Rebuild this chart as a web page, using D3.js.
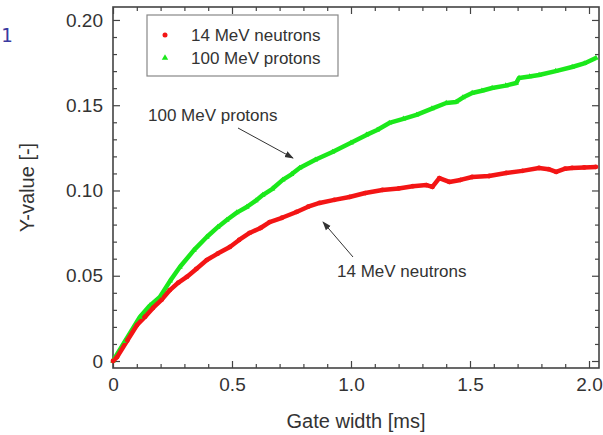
<!DOCTYPE html>
<meta charset="utf-8">
<style>
    body { margin: 0; background: #fff; }
    text { font-family: "Liberation Sans", Arial, sans-serif; fill: #333; }
    .axis path { display: none; }
    .axis line { stroke: #444; stroke-width: 1.2; }
</style>
<body>
<div id="chart"></div>
<script src="https://d3js.org/d3.v7.min.js"></script>
<script type="text/javascript">

    // data (gate width in ms, Y-value)
    var neutronX = [0, 0.017, 0.06, 0.101, 0.135, 0.168, 0.205, 0.239, 0.275, 0.31, 0.35, 0.394, 0.44, 0.491, 0.53, 0.574, 0.62, 0.658, 0.71, 0.771, 0.82, 0.868, 0.93, 0.994, 1.06, 1.132, 1.2, 1.26, 1.317, 1.342, 1.371, 1.413, 1.46, 1.509, 1.58, 1.652, 1.72, 1.79, 1.83, 1.862, 1.9, 1.929, 1.98, 2.029];
    var neutronY = [0, 0.0023, 0.012, 0.0211, 0.026, 0.0311, 0.036, 0.0416, 0.046, 0.0493, 0.054, 0.0592, 0.063, 0.0669, 0.071, 0.0751, 0.078, 0.0815, 0.084, 0.0874, 0.0905, 0.0927, 0.0945, 0.0962, 0.0985, 0.1003, 0.1012, 0.1025, 0.1032, 0.1021, 0.1073, 0.105, 0.1062, 0.1079, 0.1085, 0.1103, 0.1115, 0.1132, 0.1125, 0.1109, 0.1128, 0.1132, 0.1135, 0.1138];

    var protonX = [0, 0.05, 0.113, 0.155, 0.197, 0.24, 0.281, 0.34, 0.394, 0.44, 0.478, 0.52, 0.562, 0.6, 0.629, 0.67, 0.713, 0.75, 0.784, 0.85, 0.922, 1.0, 1.065, 1.11, 1.161, 1.22, 1.275, 1.34, 1.4, 1.442, 1.47, 1.509, 1.55, 1.593, 1.65, 1.694, 1.706, 1.75, 1.79, 1.86, 1.929, 1.98, 2.029];
    var protonY = [0, 0.0115, 0.0258, 0.0325, 0.0375, 0.047, 0.0551, 0.065, 0.0727, 0.0785, 0.0827, 0.087, 0.0903, 0.094, 0.0973, 0.101, 0.1062, 0.1095, 0.1132, 0.118, 0.1226, 0.128, 0.1326, 0.1355, 0.1396, 0.142, 0.1443, 0.148, 0.1513, 0.1519, 0.1545, 0.1572, 0.1585, 0.1601, 0.1615, 0.163, 0.166, 0.1668, 0.1677, 0.17, 0.1724, 0.1745, 0.1777];

    var seriesNames = ["14 MeV neutrons", "100 MeV protons"];
    var xTicks = [0, 0.5, 1.0, 1.5, 2.0];
    var xTickLabels = ["0", "0.5", "1.0", "1.5", "2.0"];
    var yTicks = [0, 0.05, 0.10, 0.15, 0.20];
    var yTickLabels = ["0", "0.05", "0.10", "0.15", "0.20"];

    // dims
    var svg_dx = 603,
        svg_dy = 435,
        plotL = 113, plotR = 599, plotT = 7, plotB = 368;

    var x = d3.scaleLinear().domain([0, 2.042]).range([plotL, plotR]),
        y = d3.scaleLinear().domain([-0.0041, 0.2076]).range([plotB, plotT]);

    var svg = d3.select("#chart")
        .append("svg")
        .attr("width", svg_dx)
        .attr("height", svg_dy);

    // stray page number in the corner
    svg.append("text")
        .attr("x", 1)
        .attr("y", 42)
        .style("font-family", "DejaVu Sans Mono, monospace")
        .style("font-size", "19px")
        .style("fill", "#3a3aa0")
        .text("1");

    var xMinor = d3.range(0, 2.05, 0.1).filter(function (v) { return Math.abs(v * 2 - Math.round(v * 2)) > 1e-6; });
    var yMinor = d3.range(0, 0.2075, 0.01).filter(function (v) { return Math.abs(v * 20 - Math.round(v * 20)) > 1e-6; });

    function fmt(ticks, labels) {
        return function (d) { return labels[ticks.indexOf(d)]; };
    }

    // bottom + top axes
    svg.append("g").attr("class", "axis")
        .attr("transform", "translate(0," + plotB + ")")
        .call(d3.axisBottom(x).tickValues(xTicks).tickSize(-7).tickPadding(10).tickFormat(fmt(xTicks, xTickLabels)))
        .selectAll("text").style("font-size", "19px").style("fill", "#333");
    svg.append("g").attr("class", "axis")
        .attr("transform", "translate(0," + plotB + ")")
        .call(d3.axisBottom(x).tickValues(xMinor).tickSize(-4).tickFormat(""));
    svg.append("g").attr("class", "axis")
        .attr("transform", "translate(0," + plotT + ")")
        .call(d3.axisTop(x).tickValues(xTicks).tickSize(-7).tickFormat(""));
    svg.append("g").attr("class", "axis")
        .attr("transform", "translate(0," + plotT + ")")
        .call(d3.axisTop(x).tickValues(xMinor).tickSize(-4).tickFormat(""));

    // left + right axes
    svg.append("g").attr("class", "axis")
        .attr("transform", "translate(" + plotL + ",0)")
        .call(d3.axisLeft(y).tickValues(yTicks).tickSize(-7).tickPadding(10).tickFormat(fmt(yTicks, yTickLabels)))
        .selectAll("text").style("font-size", "19px").style("fill", "#333");
    svg.append("g").attr("class", "axis")
        .attr("transform", "translate(" + plotL + ",0)")
        .call(d3.axisLeft(y).tickValues(yMinor).tickSize(-4).tickFormat(""));
    svg.append("g").attr("class", "axis")
        .attr("transform", "translate(" + plotR + ",0)")
        .call(d3.axisRight(y).tickValues(yTicks).tickSize(-7).tickFormat(""));
    svg.append("g").attr("class", "axis")
        .attr("transform", "translate(" + plotR + ",0)")
        .call(d3.axisRight(y).tickValues(yMinor).tickSize(-4).tickFormat(""));

    // frame
    svg.append("rect")
        .attr("x", plotL).attr("y", plotT)
        .attr("width", plotR - plotL).attr("height", plotB - plotT)
        .attr("fill", "none")
        .attr("stroke", "#444")
        .attr("stroke-width", 1.6);

    // axis titles
    svg.append("text")
        .attr("x", (plotL + plotR) / 2)
        .attr("y", 428)
        .attr("text-anchor", "middle")
        .style("font-size", "20px")
        .text("Gate width [ms]");

    svg.append("text")
        .attr("transform", "translate(34," + ((plotT + plotB) / 2) + ") rotate(-90)")
        .attr("text-anchor", "middle")
        .style("font-size", "20px")
        .text("Y-value [-]");

    // series
    var line = d3.line()
        .x(function (d) { return x(d[0]); })
        .y(function (d) { return y(d[1]); });

    var neutrons = d3.zip(neutronX, neutronY),
        protons = d3.zip(protonX, protonY);

    var plot = svg.append("g");

    plot.append("path")
        .datum(protons)
        .attr("d", line)
        .attr("fill", "none")
        .attr("stroke", "#1be81b")
        .attr("stroke-width", 4.5)
        .attr("stroke-linejoin", "round");

    plot.append("path")
        .datum(neutrons)
        .attr("d", line)
        .attr("fill", "none")
        .attr("stroke", "#f31515")
        .attr("stroke-width", 4.5)
        .attr("stroke-linejoin", "round");

    var tri = d3.symbol().type(d3.symbolTriangle).size(14);

    plot.selectAll(".pt-p")
        .data(protons)
        .enter()
        .append("path")
        .attr("class", "pt-p")
        .attr("d", tri)
        .attr("transform", function (d) { return "translate(" + x(d[0]) + "," + y(d[1]) + ")"; })
        .attr("fill", "#1be81b");

    plot.selectAll(".pt-n")
        .data(neutrons)
        .enter()
        .append("circle")
        .attr("class", "pt-n")
        .attr("r", 2.4)
        .attr("cx", function (d) { return x(d[0]); })
        .attr("cy", function (d) { return y(d[1]); })
        .attr("fill", "#f31515");

    // legend
    var legend = svg.append("g");
    legend.append("rect")
        .attr("x", 147).attr("y", 15)
        .attr("width", 191).attr("height", 61)
        .attr("fill", "#fff")
        .attr("stroke", "#888")
        .attr("stroke-width", 1.2);

    legend.append("circle")
        .attr("cx", 165).attr("cy", 35).attr("r", 2.5)
        .attr("fill", "#f31515");
    legend.append("path")
        .attr("d", d3.symbol().type(d3.symbolTriangle).size(18))
        .attr("transform", "translate(165,58)")
        .attr("fill", "#1be81b");

    legend.selectAll(".lg")
        .data(seriesNames)
        .enter()
        .append("text")
        .attr("class", "lg")
        .attr("x", 191)
        .attr("y", function (d, i) { return 41 + i * 23; })
        .style("font-size", "17px")
        .text(function (d) { return d; });

    // annotations
    svg.append("defs").append("marker")
        .attr("id", "arr")
        .attr("viewBox", "0 0 10 10")
        .attr("refX", 9).attr("refY", 5)
        .attr("markerWidth", 9).attr("markerHeight", 9)
        .attr("markerUnits", "userSpaceOnUse")
        .attr("orient", "auto")
        .append("path")
        .attr("d", "M0,1.5 L10,5 L0,8.5 Z")
        .attr("fill", "#333");

    svg.append("text")
        .attr("x", 148).attr("y", 121)
        .style("font-size", "17px")
        .text(seriesNames[1]);
    svg.append("line")
        .attr("x1", 238).attr("y1", 128)
        .attr("x2", 293).attr("y2", 158)
        .attr("stroke", "#333").attr("stroke-width", 1)
        .attr("marker-end", "url(#arr)");

    svg.append("text")
        .attr("x", 337).attr("y", 277)
        .style("font-size", "17px")
        .text(seriesNames[0]);
    svg.append("line")
        .attr("x1", 353).attr("y1", 257)
        .attr("x2", 323).attr("y2", 222)
        .attr("stroke", "#333").attr("stroke-width", 1)
        .attr("marker-end", "url(#arr)");

</script>
</body>
